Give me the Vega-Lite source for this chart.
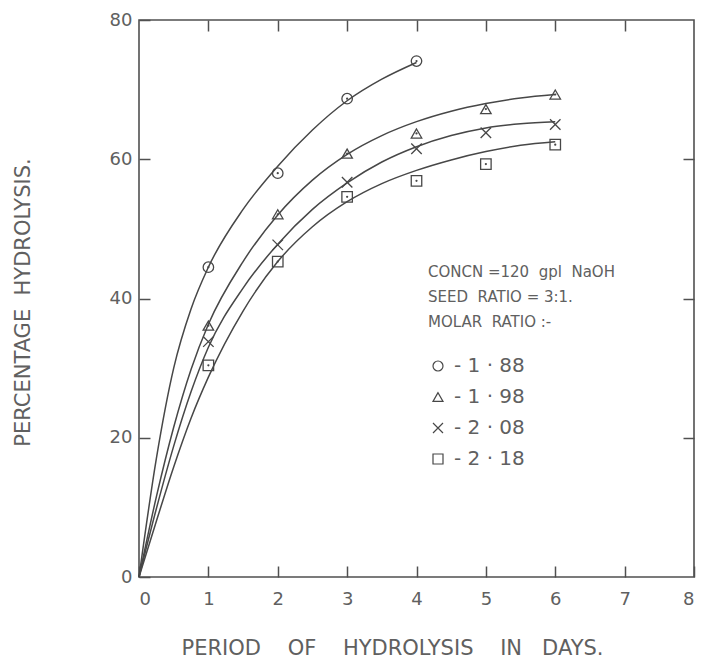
{
  "$schema": "https://vega.github.io/schema/vega-lite/v6.json",
  "width": 555,
  "height": 557,
  "autosize": {"type": "none"},
  "padding": {"left": 139, "top": 20, "right": 7, "bottom": 86},
  "background": "#ffffff",
  "config": {
    "view": {"stroke": "#505050", "strokeWidth": 1.6},
    "font": "DejaVu Sans",
    "axis": {
      "domain": false,
      "grid": false,
      "labelColor": "#606060",
      "titleColor": "#606060",
      "tickColor": "#505050",
      "tickWidth": 1.5,
      "labelFont": "DejaVu Sans",
      "titleFont": "DejaVu Sans",
      "titleFontWeight": "normal"
    }
  },
  "datasets": {
    "curves": [
      {"series": "1 · 88", "day": 0, "pct": 0},
      {"series": "1 · 88", "day": 0.25, "pct": 17},
      {"series": "1 · 88", "day": 0.5, "pct": 30},
      {"series": "1 · 88", "day": 0.75, "pct": 38.5},
      {"series": "1 · 88", "day": 1, "pct": 44.5},
      {"series": "1 · 88", "day": 1.5, "pct": 52.8},
      {"series": "1 · 88", "day": 2, "pct": 59},
      {"series": "1 · 88", "day": 2.5, "pct": 64.2},
      {"series": "1 · 88", "day": 3, "pct": 68.4},
      {"series": "1 · 88", "day": 3.5, "pct": 71.5},
      {"series": "1 · 88", "day": 4, "pct": 73.9},
      {"series": "1 · 98", "day": 0, "pct": 0},
      {"series": "1 · 98", "day": 0.25, "pct": 11.5},
      {"series": "1 · 98", "day": 0.5, "pct": 21.5},
      {"series": "1 · 98", "day": 0.75, "pct": 29.8},
      {"series": "1 · 98", "day": 1, "pct": 36.3},
      {"series": "1 · 98", "day": 1.5, "pct": 45.3},
      {"series": "1 · 98", "day": 2, "pct": 52},
      {"series": "1 · 98", "day": 2.5, "pct": 57},
      {"series": "1 · 98", "day": 3, "pct": 60.7},
      {"series": "1 · 98", "day": 3.5, "pct": 63.4},
      {"series": "1 · 98", "day": 4, "pct": 65.4},
      {"series": "1 · 98", "day": 4.5, "pct": 66.9},
      {"series": "1 · 98", "day": 5, "pct": 68},
      {"series": "1 · 98", "day": 5.5, "pct": 68.8},
      {"series": "1 · 98", "day": 6, "pct": 69.3},
      {"series": "2 · 08", "day": 0, "pct": 0},
      {"series": "2 · 08", "day": 0.25, "pct": 9.8},
      {"series": "2 · 08", "day": 0.5, "pct": 18.8},
      {"series": "2 · 08", "day": 0.75, "pct": 26.6},
      {"series": "2 · 08", "day": 1, "pct": 33},
      {"series": "2 · 08", "day": 1.5, "pct": 41.5},
      {"series": "2 · 08", "day": 2, "pct": 47.8},
      {"series": "2 · 08", "day": 2.5, "pct": 52.8},
      {"series": "2 · 08", "day": 3, "pct": 56.6},
      {"series": "2 · 08", "day": 3.5, "pct": 59.6},
      {"series": "2 · 08", "day": 4, "pct": 61.8},
      {"series": "2 · 08", "day": 4.5, "pct": 63.4},
      {"series": "2 · 08", "day": 5, "pct": 64.5},
      {"series": "2 · 08", "day": 5.5, "pct": 65.1},
      {"series": "2 · 08", "day": 6, "pct": 65.4},
      {"series": "2 · 18", "day": 0, "pct": 0},
      {"series": "2 · 18", "day": 0.25, "pct": 8},
      {"series": "2 · 18", "day": 0.5, "pct": 15.8},
      {"series": "2 · 18", "day": 0.75, "pct": 22.8},
      {"series": "2 · 18", "day": 1, "pct": 28.7},
      {"series": "2 · 18", "day": 1.5, "pct": 38.2},
      {"series": "2 · 18", "day": 2, "pct": 45.3},
      {"series": "2 · 18", "day": 2.5, "pct": 50.3},
      {"series": "2 · 18", "day": 3, "pct": 53.9},
      {"series": "2 · 18", "day": 3.5, "pct": 56.5},
      {"series": "2 · 18", "day": 4, "pct": 58.4},
      {"series": "2 · 18", "day": 4.5, "pct": 59.9},
      {"series": "2 · 18", "day": 5, "pct": 61.1},
      {"series": "2 · 18", "day": 5.5, "pct": 62},
      {"series": "2 · 18", "day": 6, "pct": 62.5}
    ],
    "points": [
      {"series": "1 · 88", "day": 1, "pct": 44.5},
      {"series": "1 · 88", "day": 2, "pct": 58},
      {"series": "1 · 88", "day": 3, "pct": 68.7},
      {"series": "1 · 88", "day": 4, "pct": 74.1},
      {"series": "1 · 98", "day": 1, "pct": 36.1},
      {"series": "1 · 98", "day": 2, "pct": 52.1},
      {"series": "1 · 98", "day": 3, "pct": 60.8},
      {"series": "1 · 98", "day": 4, "pct": 63.7},
      {"series": "1 · 98", "day": 5, "pct": 67.2},
      {"series": "1 · 98", "day": 6, "pct": 69.3},
      {"series": "2 · 08", "day": 1, "pct": 33.8},
      {"series": "2 · 08", "day": 2, "pct": 47.7},
      {"series": "2 · 08", "day": 3, "pct": 56.7},
      {"series": "2 · 08", "day": 4, "pct": 61.5},
      {"series": "2 · 08", "day": 5, "pct": 63.8},
      {"series": "2 · 08", "day": 6, "pct": 65},
      {"series": "2 · 18", "day": 1, "pct": 30.4},
      {"series": "2 · 18", "day": 2, "pct": 45.3},
      {"series": "2 · 18", "day": 3, "pct": 54.6},
      {"series": "2 · 18", "day": 4, "pct": 56.9},
      {"series": "2 · 18", "day": 5, "pct": 59.3},
      {"series": "2 · 18", "day": 6, "pct": 62.1}
    ]
  },
  "layer": [
    {
      "data": {"name": "curves"},
      "mark": {"type": "line", "interpolate": "monotone", "stroke": "#474747", "strokeWidth": 1.5},
      "encoding": {
        "x": {
          "field": "day", "type": "quantitative",
          "scale": {"domain": [0, 8], "nice": false, "zero": true},
          "axis": {
            "orient": "bottom", "values": [0, 1, 2, 3, 4, 5, 6, 7, 8], "format": "d",
            "tickSize": -11, "labelPadding": 24, "labelFontSize": 18,
            "title": "PERIOD\u00a0\u00a0\u00a0 OF\u00a0\u00a0\u00a0 HYDROLYSIS\u00a0\u00a0\u00a0 IN\u00a0\u00a0 DAYS.", "titleFontSize": 21, "titleLimit": 600,
            "titleX": 253, "titleY": 71, "titleBaseline": "middle", "titleAlign": "center"
          }
        },
        "y": {
          "field": "pct", "type": "quantitative",
          "scale": {"domain": [0, 80], "nice": false},
          "axis": {
            "orient": "left", "values": [0, 20, 40, 60, 80], "format": "d",
            "tickSize": -11, "labelPadding": 18, "labelFontSize": 18,
            "title": "PERCENTAGE\u00a0 HYDROLYSIS.", "titleFontSize": 21, "titleLimit": 600,
            "titleX": -116, "titleY": 282, "titleBaseline": "middle", "titleAlign": "center", "titleAngle": -90
          }
        },
        "detail": {"field": "series", "type": "nominal"}
      }
    },
    {
      "data": {"name": "points"},
      "mark": {"type": "point", "filled": false, "stroke": "#474747", "strokeWidth": 1.3, "size": 110, "opacity": 1},
      "encoding": {
        "x": {
          "field": "day", "type": "quantitative",
          "axis": {"orient": "top", "values": [1, 2, 3, 4, 5, 6, 7], "labels": false, "tickSize": -11, "title": null}
        },
        "y": {
          "field": "pct", "type": "quantitative",
          "axis": {"orient": "right", "values": [20, 40, 60], "labels": false, "tickSize": -11, "title": null}
        },
        "shape": {
          "field": "series", "type": "nominal",
          "scale": {
            "domain": ["1 · 88", "1 · 98", "2 · 08", "2 · 18"],
            "range": ["circle", "triangle-up", "M-1,-1L1,1M-1,1L1,-1", "square"]
          },
          "legend": {
            "orient": "none", "legendX": 289, "legendY": 245,
            "title": ["CONCN =120\u00a0 gpl\u00a0 NaOH", "SEED\u00a0 RATIO = 3:1.", "MOLAR\u00a0 RATIO :-"],
            "titleFontSize": 15, "titleLineHeight": 25, "titleFontWeight": "normal", "titleColor": "#606060", "titleLimit": 400,
            "titlePadding": 26, "labelFontSize": 20, "labelColor": "#606060", "labelOffset": 6, "labelLimit": 300,
            "rowPadding": 11, "symbolStrokeColor": "#474747", "symbolFillColor": "transparent",
            "symbolStrokeWidth": 1.2, "symbolSize": 100, "labelExpr": "'- ' + datum.label", "padding": 0
          }
        }
      }
    },
    {
      "data": {"name": "points"},
      "transform": [{"filter": "datum.series != '2 · 08'"}],
      "mark": {"type": "point", "filled": true, "fill": "#474747", "shape": "circle", "size": 5, "opacity": 1},
      "encoding": {
        "x": {"field": "day", "type": "quantitative", "axis": null},
        "y": {"field": "pct", "type": "quantitative", "axis": null}
      }
    }
  ],
  "resolve": {"axis": {"x": "independent", "y": "independent"}}
}
